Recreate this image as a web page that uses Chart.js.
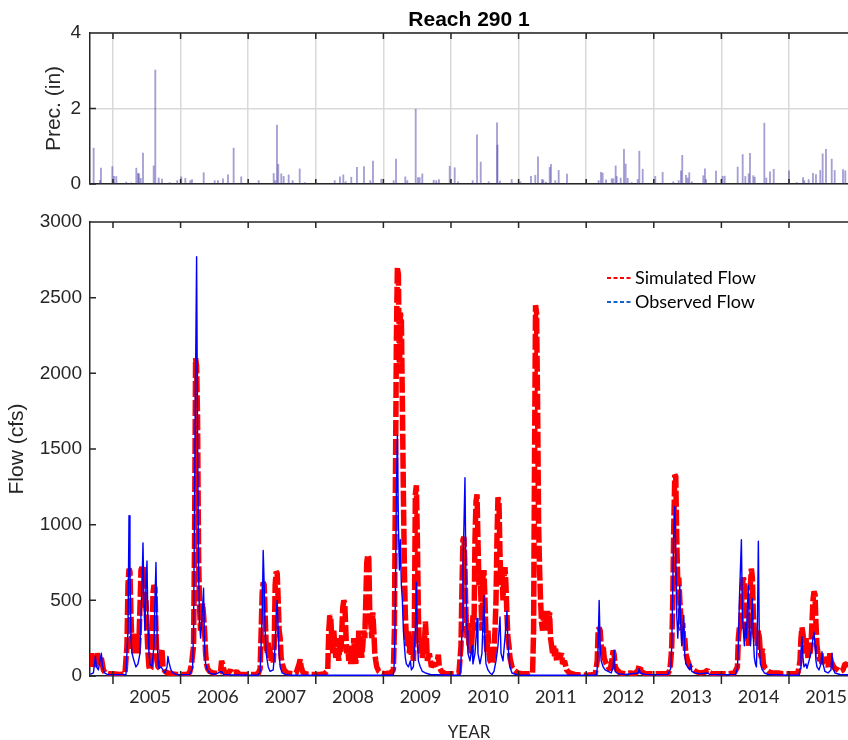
<!DOCTYPE html>
<html>
<head>
<meta charset="utf-8">
<script src="https://cdn.jsdelivr.net/npm/chart.js@4.4.1/dist/chart.umd.min.js"></script>
<style>
    body { margin: 0; background: #fff; width: 848px; height: 740px; overflow: hidden; }
    #precWrap { position: absolute; left: 0; top: 0; width: 848px; height: 200px; }
    #flowWrap { position: absolute; left: 0; top: 200px; width: 848px; height: 543px; }
</style>
</head>
<body>
<div id="precWrap"><canvas id="precChart"></canvas></div>
<div id="flowWrap"><canvas id="flowChart"></canvas></div>
<script>
// time axis (decimal years)
const xStart = 2004.66;
const xEnd = 2015.873;
const years = [2005, 2006, 2007, 2008, 2009, 2010, 2011, 2012, 2013, 2014, 2015];

// daily precipitation, inches  [decimal year, value]
const precip = [
    [2004.714, 0.95], [2004.808, 0.1], [2004.822, 0.42], [2004.990, 0.46], [2005.015, 0.2], [2005.049, 0.2],
    [2005.197, 0.05], [2005.271, 0.03], [2005.345, 0.42], [2005.370, 0.28], [2005.385, 0.27], [2005.410, 0.15],
    [2005.444, 0.82], [2005.602, 0.48], [2005.626, 3.02], [2005.676, 0.16], [2005.725, 0.13], [2005.839, 0.04],
    [2005.951, 0.09], [2006.010, 0.19], [2006.070, 0.15], [2006.144, 0.09], [2006.169, 0.12], [2006.342, 0.3],
    [2006.504, 0.09], [2006.553, 0.09], [2006.627, 0.14], [2006.701, 0.24], [2006.785, 0.95], [2006.897, 0.19],
    [2007.155, 0.09], [2007.377, 0.28], [2007.401, 0.09], [2007.426, 1.56], [2007.445, 0.52], [2007.490, 0.27],
    [2007.525, 0.2], [2007.599, 0.24], [2007.658, 0.09], [2007.762, 0.4], [2007.836, 0.04], [2008.280, 0.09],
    [2008.358, 0.19], [2008.407, 0.24], [2008.442, 0.06], [2008.525, 0.18], [2008.609, 0.44], [2008.713, 0.46],
    [2008.806, 0.09], [2008.846, 0.61], [2008.969, 0.13], [2009.152, 0.09], [2009.187, 0.66], [2009.324, 0.19],
    [2009.354, 0.09], [2009.478, 1.98], [2009.512, 0.17], [2009.537, 0.17], [2009.576, 0.27], [2009.744, 0.1],
    [2009.782, 0.09], [2009.822, 0.12], [2009.981, 0.47], [2010.055, 0.43], [2010.104, 0.06], [2010.321, 0.09],
    [2010.385, 1.3], [2010.440, 0.58], [2010.558, 0.06], [2010.681, 1.62], [2010.688, 1.03], [2010.725, 0.08],
    [2010.898, 0.12], [2011.026, 0.06], [2011.183, 0.2], [2011.247, 0.23], [2011.287, 0.72], [2011.346, 0.12],
    [2011.365, 0.11], [2011.405, 0.05], [2011.460, 0.44], [2011.479, 0.52], [2011.543, 0.09], [2011.593, 0.36],
    [2011.716, 0.26], [2012.184, 0.09], [2012.219, 0.31], [2012.244, 0.29], [2012.293, 0.11], [2012.377, 0.14],
    [2012.401, 0.14], [2012.436, 0.48], [2012.451, 0.2], [2012.510, 0.16], [2012.559, 0.92], [2012.584, 0.53],
    [2012.614, 0.15], [2012.673, 0.04], [2012.762, 0.12], [2012.786, 0.87], [2012.836, 0.39], [2013.022, 0.2],
    [2013.131, 0.31], [2013.288, 0.06], [2013.368, 0.09], [2013.402, 0.35], [2013.421, 0.76], [2013.476, 0.23],
    [2013.501, 0.16], [2013.525, 0.3], [2013.565, 0.06], [2013.732, 0.22], [2013.757, 0.4], [2013.772, 0.12],
    [2013.920, 0.34], [2014.019, 0.2], [2014.049, 0.21], [2014.241, 0.45], [2014.315, 0.78], [2014.354, 0.2],
    [2014.404, 0.27], [2014.423, 0.81], [2014.472, 0.22], [2014.493, 0.18], [2014.635, 1.61], [2014.664, 0.16],
    [2014.719, 0.32], [2014.774, 0.39], [2015.000, 0.35], [2015.114, 0.04], [2015.207, 0.17], [2015.226, 0.09],
    [2015.291, 0.12], [2015.355, 0.28], [2015.399, 0.25], [2015.463, 0.36], [2015.498, 0.8], [2015.547, 0.92],
    [2015.632, 0.66], [2015.676, 0.36], [2015.799, 0.38], [2015.833, 0.35]
];

// simulated flow, cfs  [decimal year, value]
const simulated = [
    [2004.666, 60], [2004.680, 150], [2004.695, 80], [2004.710, 140], [2004.740, 60], [2004.769, 150], [2004.799, 80],
    [2004.828, 120], [2004.858, 40], [2004.887, 20], [2004.932, 15],
    [2005.000, 15], [2005.104, 10], [2005.177, 15], [2005.207, 200], [2005.222, 600], [2005.237, 710], [2005.251, 690],
    [2005.266, 400], [2005.281, 180], [2005.296, 280], [2005.311, 150], [2005.325, 260], [2005.340, 170], [2005.355, 280],
    [2005.370, 150], [2005.385, 250], [2005.399, 450], [2005.414, 700], [2005.429, 720], [2005.444, 650], [2005.458, 720],
    [2005.473, 450], [2005.488, 500], [2005.503, 300], [2005.518, 150], [2005.532, 60], [2005.547, 40], [2005.562, 50],
    [2005.577, 200], [2005.592, 550], [2005.606, 600], [2005.621, 580], [2005.636, 300], [2005.651, 100], [2005.666, 60],
    [2005.695, 50], [2005.710, 150], [2005.725, 180], [2005.740, 60], [2005.769, 30], [2005.813, 20], [2005.873, 15],
    [2005.932, 10],
    [2006.000, 10], [2006.074, 10], [2006.104, 15], [2006.133, 20], [2006.163, 80], [2006.192, 200], [2006.207, 900],
    [2006.222, 2100], [2006.237, 2050], [2006.251, 1700], [2006.266, 800], [2006.281, 450], [2006.296, 300], [2006.311, 400],
    [2006.325, 480], [2006.340, 400], [2006.355, 300], [2006.370, 150], [2006.385, 80], [2006.399, 50], [2006.429, 30],
    [2006.488, 20], [2006.547, 15], [2006.592, 30], [2006.606, 100], [2006.621, 80], [2006.651, 20], [2006.695, 15],
    [2006.740, 40], [2006.754, 20], [2006.799, 20], [2006.828, 30], [2006.873, 10], [2006.932, 10],
    [2007.000, 10], [2007.104, 10], [2007.148, 15], [2007.177, 50], [2007.192, 300], [2007.207, 550], [2007.222, 620],
    [2007.237, 600], [2007.251, 400], [2007.266, 200], [2007.281, 150], [2007.296, 220], [2007.311, 120], [2007.325, 180],
    [2007.340, 100], [2007.355, 150], [2007.370, 90], [2007.385, 200], [2007.399, 600], [2007.414, 690], [2007.429, 680],
    [2007.444, 500], [2007.458, 300], [2007.473, 250], [2007.488, 120], [2007.503, 80], [2007.532, 40], [2007.577, 20],
    [2007.651, 15], [2007.710, 20], [2007.754, 80], [2007.769, 110], [2007.784, 60], [2007.813, 20], [2007.887, 10],
    [2008.000, 10], [2008.059, 10], [2008.133, 15], [2008.177, 40], [2008.192, 300], [2008.207, 400], [2008.222, 380],
    [2008.237, 250], [2008.251, 150], [2008.266, 300], [2008.281, 200], [2008.296, 120], [2008.311, 250], [2008.325, 180],
    [2008.340, 100], [2008.355, 200], [2008.370, 150], [2008.385, 300], [2008.399, 450], [2008.414, 500], [2008.429, 480],
    [2008.444, 300], [2008.458, 150], [2008.473, 200], [2008.488, 100], [2008.503, 150], [2008.518, 80], [2008.532, 200],
    [2008.547, 120], [2008.562, 250], [2008.577, 150], [2008.592, 80], [2008.606, 200], [2008.621, 120], [2008.636, 300],
    [2008.651, 150], [2008.666, 250], [2008.680, 120], [2008.695, 200], [2008.710, 300], [2008.725, 250], [2008.740, 500],
    [2008.754, 750], [2008.769, 800], [2008.784, 780], [2008.799, 400], [2008.813, 350], [2008.828, 250], [2008.843, 420],
    [2008.858, 300], [2008.873, 150], [2008.887, 100], [2008.902, 60], [2008.932, 30], [2008.961, 20],
    [2009.015, 15], [2009.104, 20], [2009.148, 40], [2009.163, 300], [2009.177, 1200], [2009.192, 2200], [2009.207, 2700],
    [2009.222, 2650], [2009.237, 2000], [2009.251, 2400], [2009.266, 2350], [2009.281, 1800], [2009.296, 1200], [2009.311, 700],
    [2009.325, 400], [2009.340, 250], [2009.355, 200], [2009.370, 300], [2009.385, 150], [2009.399, 250], [2009.414, 130],
    [2009.429, 200], [2009.444, 100], [2009.458, 300], [2009.473, 1200], [2009.488, 1260], [2009.503, 900], [2009.518, 400],
    [2009.532, 200], [2009.547, 150], [2009.562, 250], [2009.577, 120], [2009.606, 200], [2009.621, 360], [2009.636, 250],
    [2009.651, 100], [2009.680, 150], [2009.710, 60], [2009.740, 80], [2009.784, 70], [2009.813, 140], [2009.828, 60],
    [2009.858, 30], [2009.917, 15],
    [2010.000, 15], [2010.059, 15], [2010.118, 20], [2010.148, 200], [2010.163, 600], [2010.177, 900], [2010.192, 920],
    [2010.207, 700], [2010.222, 400], [2010.237, 250], [2010.251, 350], [2010.266, 200], [2010.281, 300], [2010.296, 150],
    [2010.311, 250], [2010.325, 400], [2010.340, 300], [2010.355, 900], [2010.370, 1150], [2010.385, 1200], [2010.399, 900],
    [2010.414, 600], [2010.429, 700], [2010.444, 500], [2010.458, 300], [2010.473, 650], [2010.488, 700], [2010.503, 500],
    [2010.518, 250], [2010.532, 150], [2010.547, 300], [2010.562, 150], [2010.577, 100], [2010.606, 80], [2010.636, 150],
    [2010.651, 300], [2010.666, 500], [2010.680, 900], [2010.695, 1180], [2010.710, 1150], [2010.725, 800], [2010.740, 600],
    [2010.754, 700], [2010.769, 500], [2010.784, 650], [2010.799, 720], [2010.813, 600], [2010.828, 400], [2010.843, 250],
    [2010.858, 200], [2010.873, 120], [2010.902, 60], [2010.932, 40], [2010.961, 30], [2010.991, 20],
    [2011.044, 15], [2011.163, 15], [2011.207, 20], [2011.222, 300], [2011.237, 1500], [2011.251, 2450], [2011.266, 2400],
    [2011.281, 1800], [2011.296, 1000], [2011.311, 700], [2011.325, 500], [2011.340, 350], [2011.355, 300], [2011.370, 430],
    [2011.385, 350], [2011.399, 420], [2011.414, 300], [2011.429, 430], [2011.444, 300], [2011.458, 420], [2011.473, 250],
    [2011.488, 200], [2011.503, 150], [2011.518, 200], [2011.532, 130], [2011.547, 180], [2011.562, 100], [2011.577, 150],
    [2011.606, 120], [2011.636, 150], [2011.651, 80], [2011.680, 100], [2011.710, 40], [2011.754, 20], [2011.828, 10],
    [2012.000, 5], [2012.133, 10], [2012.163, 100], [2012.177, 300], [2012.192, 320], [2012.207, 300], [2012.222, 200],
    [2012.237, 150], [2012.251, 200], [2012.266, 120], [2012.296, 80], [2012.325, 60], [2012.355, 40], [2012.385, 120],
    [2012.399, 170], [2012.414, 140], [2012.429, 60], [2012.458, 40], [2012.503, 20], [2012.577, 15], [2012.651, 20],
    [2012.725, 15], [2012.769, 40], [2012.784, 70], [2012.799, 60], [2012.813, 30], [2012.873, 15], [2012.947, 15],
    [2013.000, 15], [2013.089, 15], [2013.207, 15], [2013.237, 40], [2013.251, 100], [2013.266, 200], [2013.281, 500],
    [2013.296, 1000], [2013.311, 1330], [2013.325, 1320], [2013.340, 900], [2013.355, 600], [2013.370, 650], [2013.385, 500],
    [2013.399, 400], [2013.414, 300], [2013.429, 350], [2013.444, 200], [2013.458, 250], [2013.473, 150], [2013.503, 100],
    [2013.532, 60], [2013.562, 50], [2013.592, 40], [2013.621, 30], [2013.680, 20], [2013.754, 25], [2013.799, 40],
    [2013.813, 25], [2013.858, 15], [2013.947, 15],
    [2014.000, 15], [2014.104, 15], [2014.192, 20], [2014.237, 60], [2014.251, 250], [2014.266, 320], [2014.281, 300],
    [2014.296, 450], [2014.311, 600], [2014.325, 650], [2014.340, 620], [2014.355, 400], [2014.370, 250], [2014.385, 300],
    [2014.399, 200], [2014.414, 350], [2014.429, 600], [2014.444, 710], [2014.458, 650], [2014.473, 400], [2014.488, 300],
    [2014.503, 250], [2014.518, 300], [2014.532, 200], [2014.547, 300], [2014.562, 250], [2014.577, 150], [2014.592, 120],
    [2014.606, 180], [2014.621, 80], [2014.651, 50], [2014.695, 30], [2014.754, 20], [2014.843, 20], [2014.902, 15],
    [2015.000, 15], [2015.089, 15], [2015.133, 20], [2015.163, 100], [2015.177, 250], [2015.192, 320], [2015.207, 280],
    [2015.222, 200], [2015.237, 150], [2015.251, 250], [2015.266, 180], [2015.281, 120], [2015.296, 200], [2015.311, 150],
    [2015.325, 200], [2015.340, 350], [2015.355, 500], [2015.370, 560], [2015.385, 540], [2015.399, 350], [2015.414, 200],
    [2015.429, 150], [2015.444, 120], [2015.458, 100], [2015.473, 150], [2015.488, 80], [2015.518, 120], [2015.547, 100],
    [2015.577, 60], [2015.606, 150], [2015.621, 100], [2015.651, 70], [2015.680, 50], [2015.725, 40], [2015.754, 30],
    [2015.799, 40], [2015.828, 80], [2015.843, 80], [2015.873, 60], [2015.902, 50]
];

// observed flow, cfs  [decimal year, value]
const observed = [
    [2004.666, 10], [2004.710, 20], [2004.740, 130], [2004.754, 60], [2004.784, 40], [2004.828, 150], [2004.843, 70],
    [2004.873, 20], [2004.917, 10],
    [2005.000, 8], [2005.192, 10], [2005.222, 300], [2005.237, 1060], [2005.251, 700], [2005.266, 250], [2005.281, 150],
    [2005.311, 100], [2005.340, 60], [2005.370, 80], [2005.399, 150], [2005.414, 400], [2005.429, 600], [2005.444, 880],
    [2005.458, 500], [2005.473, 300], [2005.488, 600], [2005.503, 760], [2005.518, 300], [2005.532, 150], [2005.547, 80],
    [2005.577, 60], [2005.606, 200], [2005.621, 500], [2005.636, 750], [2005.651, 300], [2005.666, 100], [2005.680, 50],
    [2005.710, 60], [2005.740, 40], [2005.769, 20], [2005.799, 60], [2005.813, 130], [2005.828, 90], [2005.858, 40],
    [2005.887, 20], [2005.932, 10],
    [2006.000, 8], [2006.133, 10], [2006.177, 50], [2006.192, 300], [2006.207, 1200], [2006.222, 2000], [2006.237, 2770],
    [2006.251, 1600], [2006.266, 700], [2006.281, 350], [2006.296, 250], [2006.311, 350], [2006.325, 450], [2006.340, 580],
    [2006.355, 200], [2006.370, 80], [2006.399, 40], [2006.429, 20], [2006.503, 10], [2006.606, 30], [2006.636, 10],
    [2006.725, 8],
    [2007.000, 5], [2007.148, 5], [2007.177, 30], [2007.207, 400], [2007.222, 830], [2007.237, 600], [2007.251, 300],
    [2007.266, 150], [2007.296, 60], [2007.325, 30], [2007.370, 40], [2007.399, 200], [2007.414, 400], [2007.429, 500],
    [2007.444, 300], [2007.458, 150], [2007.473, 60], [2007.503, 20], [2007.547, 10], [2007.621, 5],
    [2008.000, 5], [2008.503, 5],
    [2009.148, 5], [2009.163, 100], [2009.177, 500], [2009.192, 1200], [2009.207, 1590], [2009.222, 1000], [2009.237, 700],
    [2009.251, 900], [2009.266, 600], [2009.281, 500], [2009.296, 300], [2009.311, 200], [2009.325, 120], [2009.340, 80],
    [2009.370, 60], [2009.399, 100], [2009.414, 40], [2009.444, 60], [2009.473, 300], [2009.488, 620], [2009.503, 250],
    [2009.518, 100], [2009.547, 60], [2009.577, 30], [2009.621, 20], [2009.695, 10],
    [2010.000, 5], [2010.133, 5], [2010.148, 100], [2010.163, 300], [2010.177, 700], [2010.192, 1000], [2010.207, 1310],
    [2010.222, 600], [2010.237, 300], [2010.251, 150], [2010.281, 100], [2010.311, 200], [2010.325, 80], [2010.355, 150],
    [2010.370, 250], [2010.385, 380], [2010.399, 150], [2010.429, 80], [2010.458, 150], [2010.473, 350], [2010.488, 530],
    [2010.503, 200], [2010.518, 80], [2010.547, 40], [2010.577, 20], [2010.606, 10], [2010.636, 30], [2010.666, 100],
    [2010.695, 200], [2010.725, 390], [2010.740, 150], [2010.769, 100], [2010.799, 250], [2010.828, 430], [2010.843, 200],
    [2010.873, 60], [2010.902, 20], [2010.961, 10], [2010.991, 5],
    [2011.606, 5],
    [2012.000, 5], [2012.148, 5], [2012.163, 50], [2012.177, 200], [2012.192, 500], [2012.207, 200], [2012.222, 100],
    [2012.251, 60], [2012.281, 40], [2012.325, 30], [2012.370, 20], [2012.399, 60], [2012.414, 170], [2012.429, 30],
    [2012.473, 15], [2012.577, 10], [2012.769, 20], [2012.784, 50], [2012.799, 20], [2012.873, 10],
    [2013.000, 8], [2013.207, 10], [2013.251, 50], [2013.266, 200], [2013.281, 600], [2013.296, 1000], [2013.311, 1120],
    [2013.325, 800], [2013.340, 400], [2013.355, 250], [2013.370, 400], [2013.385, 600], [2013.399, 350], [2013.414, 200],
    [2013.429, 300], [2013.444, 400], [2013.458, 150], [2013.473, 80], [2013.503, 60], [2013.532, 40], [2013.547, 80],
    [2013.562, 30], [2013.606, 20], [2013.680, 15], [2013.799, 20], [2013.828, 10],
    [2014.000, 8], [2014.207, 10], [2014.237, 50], [2014.251, 200], [2014.266, 500], [2014.281, 700], [2014.296, 900],
    [2014.311, 400], [2014.325, 300], [2014.340, 200], [2014.355, 350], [2014.370, 250], [2014.385, 450], [2014.399, 600],
    [2014.414, 300], [2014.429, 200], [2014.444, 350], [2014.458, 510], [2014.473, 250], [2014.488, 120], [2014.503, 80],
    [2014.518, 60], [2014.532, 300], [2014.547, 890], [2014.562, 200], [2014.577, 80], [2014.606, 40], [2014.636, 20],
    [2014.695, 10], [2014.799, 8],
    [2015.000, 5], [2015.148, 5], [2015.163, 50], [2015.177, 150], [2015.192, 260], [2015.207, 120], [2015.222, 60],
    [2015.251, 80], [2015.266, 50], [2015.296, 100], [2015.325, 150], [2015.340, 200], [2015.355, 250], [2015.370, 290],
    [2015.385, 200], [2015.399, 100], [2015.414, 60], [2015.444, 40], [2015.473, 80], [2015.488, 160], [2015.503, 80],
    [2015.532, 30], [2015.577, 20], [2015.621, 40], [2015.636, 150], [2015.651, 50], [2015.680, 20], [2015.754, 10],
    [2015.873, 8]
];

const axisColor = '#262626';
const labelShift = 0.55;  // year labels sit inside each year span
const toXY = rows => rows.map(([x, y]) => ({ x: x, y: y }));

Chart.defaults.font.family = '"Liberation Sans", Arial, sans-serif';
Chart.defaults.color = axisColor;

// keep the plot box fixed: no extra room for overhanging tick labels
const noPadding = s => { s.paddingLeft = 0; s.paddingRight = 0; s.paddingTop = 0; s.paddingBottom = 0; };

// inward tick marks + top box line, MATLAB style
const frameTicks = {
    id: 'frameTicks',
    afterDraw(chart, args, opts) {
        const { ctx, chartArea: a, scales: { x, y } } = chart;
        ctx.save();
        ctx.strokeStyle = axisColor;
        ctx.lineWidth = 1.5;
        ctx.beginPath();
        ctx.moveTo(a.left, a.top);
        ctx.lineTo(a.right, a.top);
        years.forEach(yr => {
            const px = x.getPixelForValue(yr);
            ctx.moveTo(px, a.top);
            ctx.lineTo(px, a.top + opts.top);
            ctx.moveTo(px, a.bottom - opts.up);
            ctx.lineTo(px, a.bottom + opts.down);
        });
        y.ticks.forEach(t => {
            const py = y.getPixelForValue(t.value);
            ctx.moveTo(a.left, py);
            ctx.lineTo(a.left + opts.left, py);
        });
        ctx.stroke();
        ctx.restore();
    }
};

const chartTitle = {
    id: 'chartTitle',
    afterDraw(chart, args, opts) {
        const { ctx, chartArea: a } = chart;
        ctx.save();
        ctx.font = 'bold 21px "Liberation Sans", Arial, sans-serif';
        ctx.fillStyle = '#000';
        ctx.textAlign = 'center';
        ctx.textBaseline = 'middle';
        ctx.fillText(opts.text, (a.left + a.right) / 2, 20);
        ctx.restore();
    }
};

const flowLegend = {
    id: 'flowLegend',
    afterDraw(chart, args, opts) {
        const { ctx, chartArea: a } = chart;
        ctx.save();
        ctx.font = '18px Lato, sans-serif';
        ctx.textBaseline = 'middle';
        opts.items.forEach((item, i) => {
            const lx = a.left + 517;
            const ly = a.top + 56 + i * 24;
            ctx.strokeStyle = item.color;
            ctx.lineWidth = 2;
            ctx.setLineDash([4, 2.5]);
            ctx.beginPath();
            ctx.moveTo(lx, ly);
            ctx.lineTo(lx + 24, ly);
            ctx.stroke();
            ctx.fillStyle = '#000';
            ctx.fillText(item.text, lx + 28, ly);
        });
        ctx.restore();
    }
};

// precipitation panel
new Chart(document.getElementById('precChart'), {
    type: 'bar',
    data: {
        datasets: [{
            label: 'Prec.',
            data: toXY(precip),
            backgroundColor: 'rgba(55, 45, 160, 0.45)',
            barThickness: 1.2
        }]
    },
    options: {
        responsive: true,
        maintainAspectRatio: false,
        animation: false,
        layout: { padding: { top: 33, left: 0, right: 0, bottom: 0 } },
        plugins: {
            legend: { display: false },
            tooltip: { enabled: false },
            frameTicks: { top: 6, up: 5, down: 0, left: 6 },
            chartTitle: { text: 'Reach 290 1' }
        },
        scales: {
            x: {
                type: 'linear',
                min: xStart,
                max: xEnd,
                offset: false,
                afterBuildTicks: s => { s.ticks = years.map(v => ({ value: v })); },
                ticks: { display: false },
                grid: { offset: false, color: '#d9d9d9', lineWidth: 1.5, drawTicks: false },
                border: { color: axisColor, width: 1.5 },
                afterFit: s => { noPadding(s); s.height = 16; }
            },
            y: {
                min: 0,
                max: 4,
                ticks: { stepSize: 2, padding: 9, font: { size: 19 } },
                grid: { color: '#d9d9d9', lineWidth: 1.5, drawTicks: false },
                border: { color: axisColor, width: 1.5 },
                title: { display: true, text: 'Prec. (in)', font: { size: 21 }, padding: { top: 42 } },
                afterFit: s => { noPadding(s); s.width = 90; }
            }
        }
    },
    plugins: [frameTicks, chartTitle]
});

// flow panel
new Chart(document.getElementById('flowChart'), {
    type: 'line',
    data: {
        datasets: [
            {
                label: 'Observed Flow',
                data: toXY(observed),
                borderColor: '#0000ff',
                borderWidth: 1.4,
                borderJoinStyle: 'round',
                pointRadius: 0,
                tension: 0,
                order: 0
            },
            {
                label: 'Simulated Flow',
                data: toXY(simulated),
                borderColor: '#ff0000',
                borderWidth: 5.5,
                borderDash: [16, 3],
                borderJoinStyle: 'bevel',
                pointRadius: 0,
                tension: 0,
                order: 1
            }
        ]
    },
    options: {
        responsive: true,
        maintainAspectRatio: false,
        animation: false,
        layout: { padding: { top: 22, left: 0, right: 0, bottom: 0 } },
        plugins: {
            legend: { display: false },
            tooltip: { enabled: false },
            frameTicks: { top: 6, up: 5, down: 8, left: 6 },
            flowLegend: {
                items: [
                    { text: 'Simulated Flow', color: '#ff0000' },
                    { text: 'Observed Flow', color: '#1565c8' }
                ]
            }
        },
        scales: {
            x: {
                type: 'linear',
                min: xStart,
                max: xEnd,
                afterBuildTicks: s => { s.ticks = years.map(v => ({ value: v + labelShift })); },
                ticks: {
                    autoSkip: false,
                    maxRotation: 0,
                    padding: 10,
                    font: { family: 'Lato, sans-serif', size: 18 },
                    callback: v => String(Math.floor(v))
                },
                grid: { display: false, drawTicks: false },
                border: { color: axisColor, width: 1.5 },
                title: { display: true, text: 'YEAR', font: { family: 'Lato, sans-serif', size: 17 }, padding: { top: 0, bottom: 0 } },
                afterFit: s => { noPadding(s); s.height = 67; }
            },
            y: {
                min: 0,
                max: 3000,
                ticks: { stepSize: 500, padding: 8, font: { size: 19 }, callback: v => String(v) },
                grid: { display: false, drawTicks: false },
                border: { color: axisColor, width: 1.5 },
                title: { display: true, text: 'Flow (cfs)', font: { size: 21 }, padding: { top: 5 } },
                afterFit: s => { noPadding(s); s.width = 90; }
            }
        }
    },
    plugins: [frameTicks, flowLegend]
});
</script>
</body>
</html>
